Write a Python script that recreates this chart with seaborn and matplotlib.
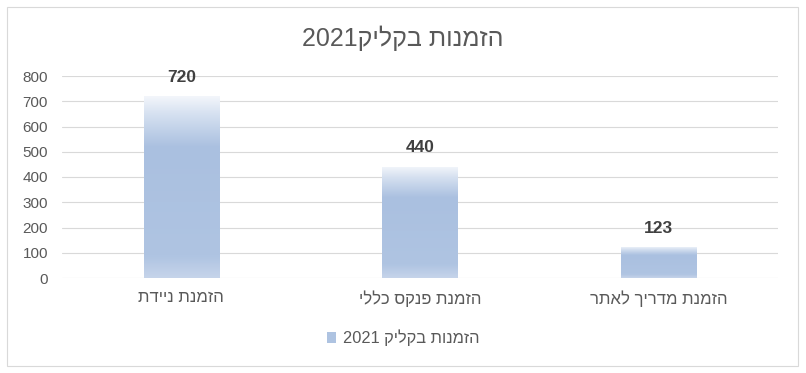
import re
import numpy as np
import pandas as pd
import matplotlib
matplotlib.use("Agg")
import matplotlib.pyplot as plt
from matplotlib.colors import LinearSegmentedColormap
from matplotlib.patches import Rectangle, Patch
import seaborn as sns

# ---- data ----
title_text = "הזמנות בקליק2021"
series_name = "הזמנות בקליק 2021"
categories = ["הזמנת ניידת", "הזמנת פנקס כללי", "הזמנת מדריך לאתר"]
values = [720, 440, 123]
y_ticks = [0, 100, 200, 300, 400, 500, 600, 700, 800]


def vis(s):
    """Visual (left-to-right) order for RTL Hebrew text, keeping digit runs intact."""
    r = s[::-1]
    return re.sub(r"\d+", lambda m: m.group(0)[::-1], r)


sns.set_theme(style="white")
plt.rcParams["font.family"] = ["Liberation Sans", "DejaVu Sans"]

df = pd.DataFrame({"cat": [vis(c) for c in categories], "val": values})

fig = plt.figure(figsize=(8.06, 3.73), dpi=100)
ax = fig.add_axes([62 / 806, 1 - 278 / 373, (778 - 62) / 806, (278 - 76) / 373])

sns.barplot(data=df, x="cat", y="val", color="#aec3e1", width=0.315, ax=ax,
            saturation=1, zorder=3)

ax.set_ylim(0, 800)
ax.set_yticks(y_ticks)
ax.set_xlim(-0.5, 2.5)
ax.grid(axis="y", color="#d9d9d9", linewidth=0.8, zorder=0)
ax.set_axisbelow(True)
for sp in ax.spines.values():
    sp.set_visible(False)
ax.tick_params(axis="y", length=0, labelsize=11, colors="#595959", pad=10)
ax.tick_params(axis="x", length=0, labelsize=12, colors="#595959", pad=9)
ax.set_xlabel("")
ax.set_ylabel("")

# gradient fill
cmap = LinearSegmentedColormap.from_list(
    "g", [(0.0, "#c6d4ea"), (0.12, "#afc4e2"), (0.72, "#aac0e0"), (0.9, "#d5e0f0"), (1.0, "#f3f6fb")])
grad = np.linspace(0, 1, 256).reshape(-1, 1)
for p in ax.patches:
    x0, y0 = p.get_x(), p.get_y()
    w, h = p.get_width(), p.get_height()
    im = ax.imshow(grad, cmap=cmap, origin="lower", extent=[x0, x0 + w, y0, y0 + h],
                   aspect="auto", zorder=3, interpolation="bicubic")
    im.set_clip_path(p)
    p.set_facecolor("none")
    p.set_edgecolor("none")
ax.set_xlim(-0.5, 2.5)
ax.set_ylim(0, 800)

# data labels
for i, v in enumerate(values):
    ax.text(i, v + 75, str(v), ha="center", va="center", fontsize=12.5,
            fontweight="bold", color="#404040", zorder=5)

fig.text(0.5, 1 - 38 / 373, vis(title_text), ha="center", va="center",
         fontsize=18, color="#595959")

handle = Patch(facecolor="#aec3e1", edgecolor="none")
fig.legend([handle], [vis(series_name)], loc="center", bbox_to_anchor=(0.5, 1 - 338 / 373),
           frameon=False, fontsize=11.8, handlelength=0.6, handleheight=0.6,
           handletextpad=0.4, labelcolor="#595959")

fig.patches.append(Rectangle((7 / 806, 1 - 366 / 373), (798 - 7) / 806, (366 - 7) / 373,
                             transform=fig.transFigure, fill=False,
                             edgecolor="#d9d9d9", linewidth=0.8))

fig.savefig("out.png", dpi=100)
